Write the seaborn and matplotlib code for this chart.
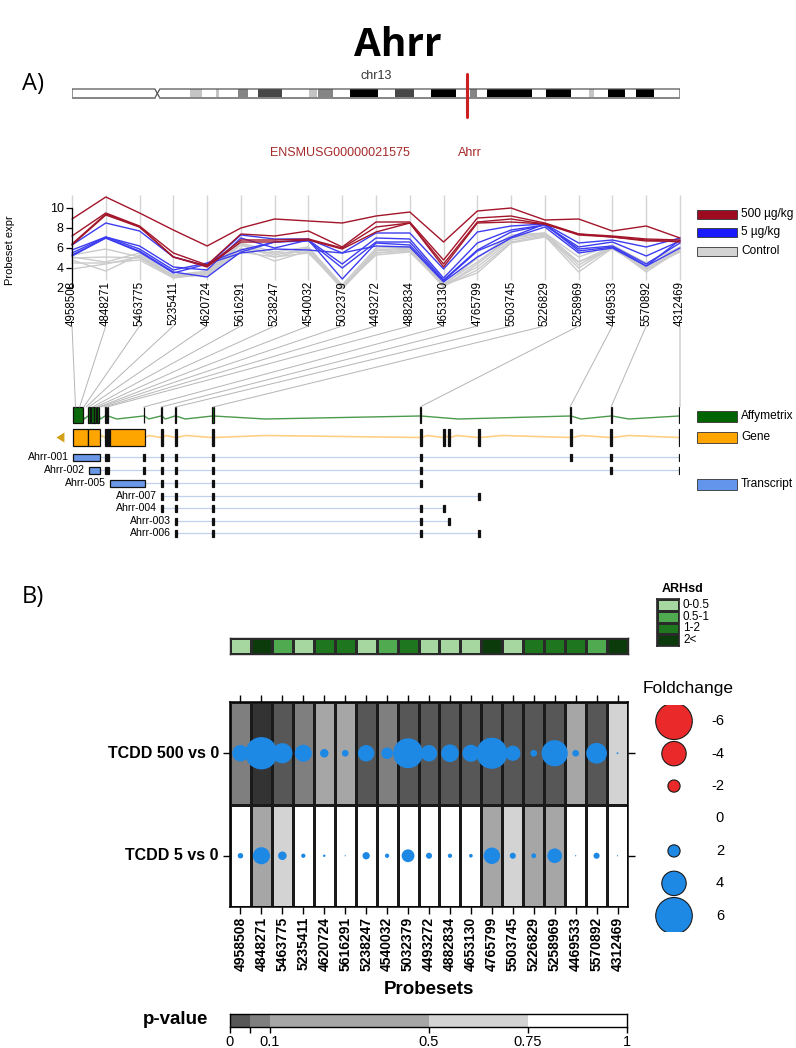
import numpy as np
import pandas as pd
import matplotlib
matplotlib.use("Agg")
import matplotlib.pyplot as plt
import seaborn as sns
from matplotlib.patches import Rectangle, Polygon, ConnectionPatch
from matplotlib.colors import ListedColormap

# ---------------------------------------------------------------- data
gene_symbol = "Ahrr"
gene_id = "ENSMUSG00000021575"
chrom = "chr13"

probesets = ["4958508", "4848271", "5463775", "5235411", "4620724", "5616291",
             "5238247", "4540032", "5032379", "4493272", "4882834", "4653130",
             "4765799", "5503745", "5226829", "5258969", "4469533", "5570892",
             "4312469"]

# probeset expression per sample (log2)
expr_500 = [
    [8.9, 11.1, 9.5, 7.8, 6.2, 8.0, 8.9, 8.7, 8.5, 9.2, 9.6, 6.6, 9.7, 10.0, 8.8, 8.9, 7.7, 8.2, 7.0],
    [7.2, 9.5, 8.2, 5.5, 4.3, 7.4, 7.2, 7.7, 6.1, 8.6, 8.6, 4.8, 9.0, 9.2, 8.5, 7.4, 7.2, 6.9, 6.8],
    [6.4, 9.4, 8.1, 5.1, 4.2, 6.8, 6.8, 6.9, 6.0, 8.1, 8.5, 4.4, 8.6, 8.9, 8.4, 7.4, 7.1, 6.8, 6.6],
    [6.3, 9.3, 8.1, 5.1, 4.1, 6.6, 6.6, 6.8, 5.9, 7.6, 8.5, 4.1, 8.5, 8.6, 8.4, 7.3, 7.1, 6.7, 6.7],
]
expr_5 = [
    [6.3, 8.5, 7.7, 5.1, 4.2, 7.3, 6.9, 6.9, 5.5, 7.5, 7.5, 3.9, 7.6, 8.2, 8.4, 6.5, 6.8, 6.1, 7.0],
    [5.8, 7.1, 6.2, 4.1, 3.8, 7.0, 6.0, 6.8, 4.4, 7.0, 6.9, 3.0, 6.5, 7.8, 8.3, 6.1, 6.6, 5.2, 6.7],
    [5.5, 7.1, 5.9, 3.8, 4.5, 5.8, 6.6, 6.7, 4.0, 6.6, 6.6, 2.8, 5.8, 7.6, 8.3, 5.9, 6.2, 4.4, 6.5],
    [5.3, 7.0, 5.7, 3.6, 3.1, 5.6, 6.6, 6.8, 2.9, 6.5, 6.3, 2.7, 5.7, 7.1, 8.4, 5.7, 6.1, 4.2, 6.8],
    [5.2, 7.0, 5.6, 3.5, 4.4, 5.5, 5.9, 5.8, 5.5, 6.2, 6.1, 2.6, 5.1, 7.0, 8.1, 5.5, 6.0, 4.2, 6.0],
]
expr_ctrl = [
    [5.3, 5.9, 5.1, 3.3, 3.7, 6.5, 5.6, 6.1, 2.3, 6.0, 6.1, 2.3, 5.0, 7.3, 7.5, 5.1, 6.3, 4.5, 6.1],
    [5.1, 4.6, 5.5, 3.2, 3.6, 6.4, 5.3, 6.0, 2.1, 5.8, 6.0, 2.4, 4.6, 7.1, 7.5, 4.6, 6.2, 4.1, 6.0],
    [5.0, 5.1, 5.0, 3.1, 3.5, 6.3, 5.1, 5.9, 2.0, 5.7, 5.9, 2.1, 4.4, 7.0, 7.4, 4.3, 6.1, 3.9, 5.9],
    [4.8, 3.7, 5.3, 3.1, 3.5, 6.0, 4.7, 5.7, 2.1, 5.5, 5.8, 2.3, 4.1, 6.8, 7.3, 4.0, 6.1, 3.6, 5.8],
    [4.5, 4.5, 4.8, 3.0, 3.4, 5.8, 5.5, 5.6, 1.9, 5.5, 5.7, 2.2, 3.8, 6.6, 7.2, 3.6, 6.0, 3.8, 5.7],
    [3.9, 4.4, 5.1, 3.1, 3.3, 5.6, 5.1, 5.5, 2.1, 5.3, 5.6, 2.3, 3.5, 6.5, 7.1, 4.6, 5.9, 4.0, 5.6],
]
dose_groups = ["500 µg/kg", "5 µg/kg", "Control"]

# chromosome ideogram (Mb)
chr_length = 120.4
centromere = (16.4, 17.4)
band_start = [23.4, 28.5, 32.9, 36.8, 46.9, 48.7, 55.0, 64.0, 71.1, 78.8, 82.2, 93.9, 102.4, 106.1, 111.7]
band_end = [25.7, 29.1, 34.9, 41.6, 48.5, 51.7, 60.6, 67.7, 76.0, 80.2, 91.1, 98.8, 103.4, 109.5, 115.2]
band_stain = ["gpos25", "gpos25", "gpos50", "gpos75", "gpos25", "gpos50", "gpos100", "gpos75",
              "gpos100", "gpos50", "gpos100", "gpos100", "gpos25", "gpos100", "gpos100"]
gene_locus_mb = 78.2

# gene region (kb from region start)
region_kb = 76.0
probeset_kb = [0.44, 0.95, 1.46, 1.75, 2.08, 2.59, 2.99, 3.35, 3.6, 4.0, 4.38,
               8.96, 11.13, 12.94, 17.63, 43.5, 62.25, 67.38, 76.0]
affy_exons = [(0.12, 1.38), (2.0, 2.25), (2.4, 2.7), (2.8, 3.0), (3.1, 3.4), (4.12, 4.25),
              (4.38, 4.5), (8.94, 9.06), (11.12, 11.25), (12.88, 13.0), (17.56, 17.69),
              (43.5, 43.62), (62.25, 62.38), (67.38, 67.5), (75.88, 76.0)]
gene_exons = [(0.12, 2.0), (2.0, 3.5), (4.12, 4.75), (4.75, 9.12), (11.1, 11.35), (12.9, 13.1),
              (17.5, 17.75), (43.5, 43.75), (46.4, 46.6), (47.0, 47.25), (50.75, 51.0),
              (62.25, 62.55), (67.3, 67.55), (75.85, 76.05)]
tx_names = ["Ahrr-001", "Ahrr-002", "Ahrr-005", "Ahrr-007", "Ahrr-004", "Ahrr-003", "Ahrr-006"]
tx_exons = [
    [(0.12, 3.5), (4.12, 4.62), (8.9, 9.1), (11.15, 11.35), (12.9, 13.1), (17.55, 17.75),
     (43.55, 43.75), (62.3, 62.5), (67.3, 67.5), (75.9, 76.1)],
    [(2.1, 3.5), (4.12, 4.62), (8.9, 9.1), (11.15, 11.35), (12.9, 13.1), (17.55, 17.75),
     (43.55, 43.75), (67.3, 67.5), (75.9, 76.1)],
    [(4.75, 9.12), (11.15, 11.35), (12.9, 13.1), (17.55, 17.75), (43.55, 43.75)],
    [(11.15, 11.35), (12.9, 13.1), (17.55, 17.75), (50.8, 51.0)],
    [(11.15, 11.35), (12.9, 13.1), (17.55, 17.75), (43.55, 43.75), (46.4, 46.6)],
    [(12.9, 13.1), (17.55, 17.75), (43.55, 43.75), (47.0, 47.2)],
    [(12.9, 13.1), (17.55, 17.75), (43.55, 43.75), (50.8, 51.0)],
]

# panel B
arhsd_levels = ["0-0.5", "0.5-1", "1-2", "2<"]
arhsd = ["0-0.5", "2<", "0.5-1", "0-0.5", "1-2", "1-2", "0-0.5", "0.5-1", "1-2", "0-0.5",
         "0-0.5", "0-0.5", "2<", "0-0.5", "1-2", "1-2", "1-2", "0.5-1", "2<"]
contrasts = ["TCDD 500 vs 0", "TCDD 5 vs 0"]
fc_500 = [2.7, 5.3, 3.3, 2.8, 1.4, 1.1, 2.7, 1.9, 4.9, 2.7, 2.9, 2.8, 5.1, 2.5, 1.1, 4.3, 1.1, 3.4, 0.3]
fc_5 = [0.9, 2.8, 1.4, 0.7, 0.4, 0.2, 1.2, 0.7, 2.1, 1.0, 0.7, 0.6, 2.7, 1.0, 0.8, 2.4, 0.2, 1.0, 0.2]
pval_500 = [0.062, 0.004, 0.021, 0.071, 0.21, 0.26, 0.018, 0.083, 0.012, 0.027, 0.031, 0.024,
            0.015, 0.033, 0.041, 0.019, 0.35, 0.028, 0.62]
pval_5 = [0.86, 0.31, 0.58, 0.91, 0.95, 0.97, 0.79, 0.88, 0.77, 0.83, 0.89, 0.92, 0.27, 0.61,
          0.44, 0.38, 0.98, 0.81, 0.96]
fc_legend = [-6, -4, -2, 0, 2, 4, 6]
p_breaks = [0, 0.05, 0.1, 0.5, 0.75, 1.0]
p_tick_labels = ["0", "", "0.1", "0.5", "0.75", "1"]

# ---------------------------------------------------------------- style
W, H = 796, 1048
sns.set_theme(style="white")
plt.rcParams["font.family"] = ["Liberation Sans", "DejaVu Sans"]
plt.rcParams["axes.facecolor"] = "none"
for k in ["text.color", "axes.labelcolor", "xtick.color", "ytick.color"]:
    plt.rcParams[k] = "black"

RED_LINE, BLUE_LINE, GREY_LINE = "#a3152a", "#3d3df0", "#cbcbcb"
stain_col = {"gpos25": "#c4c4c4", "gpos50": "#858585", "gpos75": "#474747", "gpos100": "#000000"}
arh_colors = ["#a6d7a1", "#50aa50", "#1e761e", "#0b3a0b"]
p_colors_cells = ["#333333", "#575757", "#7f7f7f", "#a6a6a6", "#d3d3d3", "#ffffff"]
p_cell_edges = [0.01, 0.05, 0.1, 0.5, 0.75]
p_colors_legend = ["#575757", "#7f7f7f", "#a6a6a6", "#d3d3d3", "#ffffff"]
BUB_BLUE, BUB_RED = "#1e88e5", "#ea2a2a"
SMAX = 694.0
NARROW_KB = 0.8

fig = plt.figure(figsize=(W / 100, H / 100), dpi=100)


def px_axes(x0, y0, x1, y1):
    return fig.add_axes([x0 / W, 1 - y1 / H, (x1 - x0) / W, (y1 - y0) / H])


ov = px_axes(0, 0, W, H)
ov.set_xlim(0, W)
ov.set_ylim(H, 0)
ov.axis("off")

ov.text(398, 45, gene_symbol, ha="center", va="center", fontsize=28, fontweight="bold",
        family=["Open Sans", "DejaVu Sans"])
ov.text(22, 84, "A)", ha="left", va="center", fontsize=17, family=["Open Sans", "DejaVu Sans"])
ov.text(22, 597, "B)", ha="left", va="center", fontsize=17, family=["Open Sans", "DejaVu Sans"])

# ---------------------------------------------------------------- ideogram
axc = px_axes(72, 60, 680, 125)
axc.set_xlim(0, chr_length)
axc.set_ylim(125, 60)
axc.axis("off")
top, bot = 89, 98
mid = (top + bot) / 2
cs, ce = centromere
cm = (cs + ce) / 2
outline = [(0, top), (cs, top), (cm, mid), (ce, top), (chr_length, top), (chr_length, bot),
           (ce, bot), (cm, mid), (cs, bot), (0, bot)]
axc.add_patch(Polygon(outline, closed=True, facecolor="white", edgecolor="none", zorder=1))
for s, e, st in zip(band_start, band_end, band_stain):
    axc.add_patch(Rectangle((s, top), e - s, bot - top, facecolor=stain_col[st],
                            edgecolor="none", zorder=2))
axc.add_patch(Polygon(outline, closed=True, facecolor="none", edgecolor="#555555", lw=0.9, zorder=3))
axc.plot([0, cs], [bot, bot], color="#888888", lw=1.4, zorder=3)
axc.plot([ce, chr_length], [bot, bot], color="#888888", lw=1.4, zorder=3)
axc.plot([gene_locus_mb, gene_locus_mb], [74, 117], color="#cc1f24", lw=2.2, zorder=4)
axc.text(chr_length / 2, 76, chrom, ha="center", va="center", fontsize=9, color="#333333")

ov.text(340, 153, gene_id, ha="center", va="center", fontsize=9, color="#a52a2a")
ov.text(470, 153, gene_symbol, ha="center", va="center", fontsize=9, color="#a52a2a")

# ---------------------------------------------------------------- expression lines
axl = px_axes(72, 208, 680, 288)
rows = []
for g, mat in zip(dose_groups, [expr_500, expr_5, expr_ctrl]):
    for k, vals in enumerate(mat):
        for i, v in enumerate(vals):
            rows.append({"pos": i, "expr": v, "group": g, "sample": f"{g}_{k}"})
df_lines = pd.DataFrame(rows)
axl.vlines(range(len(probesets)), 2.8, 11.3, color="#d4d4d4", lw=1, zorder=0, clip_on=False)
sns.lineplot(data=df_lines, x="pos", y="expr", hue="group", units="sample", estimator=None,
             hue_order=["Control", "5 µg/kg", "500 µg/kg"],
             palette={"Control": GREY_LINE, "5 µg/kg": BLUE_LINE, "500 µg/kg": RED_LINE},
             lw=1.0, legend=False, sort=False, ax=axl)
for ln in axl.lines:
    ln.set_clip_on(False)
axl.set_xlim(0, len(probesets) - 1)
axl.set_ylim(2, 10)
axl.set_xlabel("")
axl.set_ylabel("")
for side in ["top", "right", "bottom"]:
    axl.spines[side].set_visible(False)
axl.spines["left"].set_color("black")
axl.spines["left"].set_linewidth(0.9)
axl.set_yticks([2, 4, 6, 8, 10])
axl.set_xticks([])
axl.tick_params(axis="y", left=True, length=4, width=0.9, labelsize=9, pad=2)
for i, p in enumerate(probesets):
    axl.text(i, 2.7, p, rotation=90, ha="center", va="top", fontsize=8.3, clip_on=False)
ov.text(10, 250, "Probeset expr", rotation=90, ha="center", va="center", fontsize=8)

for k, (g, c) in enumerate(zip(dose_groups, ["#9e0b20", "#1a1aff", "#d3d3d3"])):
    y = 214 + k * 18.5
    ov.add_patch(Rectangle((697, y - 4.5), 40, 9, facecolor=c, edgecolor="#333333", lw=0.6))
    ov.text(741, y, g, ha="left", va="center", fontsize=8.6)

# ---------------------------------------------------------------- gene tracks
axg = px_axes(72, 395, 680, 545)
axg.set_xlim(0, region_kb)
axg.set_ylim(545, 395)
axg.axis("off")


def intron_lines(ax, exons, y, dy, color, lw):
    for (s0, e0), (s1, e1) in zip(exons[:-1], exons[1:]):
        if s1 - e0 <= 0.05:
            continue
        xm = e0 + 0.25 * (s1 - e0)
        ax.plot([e0, xm, s1], [y, y + dy, y], color=color, lw=lw, zorder=1, solid_joinstyle="round")


def exon_boxes(ax, exons, y0, h, face, fill_narrow=True):
    for s, e in exons:
        fc = "#111111" if (fill_narrow and (e - s) < NARROW_KB) else face
        ax.add_patch(Rectangle((s, y0), e - s, h, facecolor=fc, edgecolor="#111111",
                               lw=0.9, zorder=2))


# Affymetrix track
intron_lines(axg, affy_exons, 416, 3, "#4c9a4c", 1.0)
exon_boxes(axg, affy_exons, 407, 16, "#0b6a0b", fill_narrow=False)
# Gene track
intron_lines(axg, gene_exons, 437.5, -2, "#ffcf85", 1.2)
exon_boxes(axg, gene_exons, 429, 17, "#ffa500")
axg.add_patch(Polygon([(-1.95, 437.5), (-0.95, 432.5), (-0.95, 442.5)], closed=True,
                      facecolor="#d4a017", edgecolor="none", clip_on=False))
# Transcripts
tx_y = [457, 470, 483, 496, 508, 521, 533]
for name, exons, y in zip(tx_names, tx_exons, tx_y):
    axg.plot([exons[0][1], exons[-1][0]], [y, y], color="#c0d0ef", lw=0.9, zorder=1)
    exon_boxes(axg, exons, y - 3.5, 7, "#6a98e6")
    axg.text(exons[0][0] - 0.5, y, name, ha="right", va="center", fontsize=7.6, clip_on=False)

for lab, c, y in [("Affymetrix", "#006400", 416), ("Gene", "#ffa500", 437),
                  ("Transcript", "#6495ed", 484)]:
    ov.add_patch(Rectangle((697, y - 5.5), 40, 11, facecolor=c, edgecolor="#333333", lw=0.6))
    ov.text(741, y, lab, ha="left", va="center", fontsize=8.6)

# connectors from expression axis to probeset positions
for i, kb in enumerate(probeset_kb):
    cp = ConnectionPatch(xyA=(i, -1.8), coordsA=axl.transData, xyB=(kb, 407),
                         coordsB=axg.transData, color="#b5b5b5", lw=0.7)
    fig.add_artist(cp)

# ---------------------------------------------------------------- panel B: ARHsd strip
arh_cmap = ListedColormap(arh_colors)
axa = px_axes(230, 638, 628, 654)
arh_idx = np.array([[arhsd_levels.index(c) for c in arhsd]])
sns.heatmap(arh_idx, cmap=arh_cmap, vmin=-0.5, vmax=3.5, cbar=False, linewidths=1,
            linecolor="#2a2a2a", xticklabels=False, yticklabels=False, ax=axa)
for sp in axa.spines.values():
    sp.set_visible(True)
    sp.set_color("#2a2a2a")
    sp.set_linewidth(1)

axal = px_axes(657, 599, 679, 646)
sns.heatmap(np.arange(len(arhsd_levels)).reshape(-1, 1), cmap=arh_cmap, vmin=-0.5, vmax=3.5,
            cbar=False, linewidths=1, linecolor="#2a2a2a", xticklabels=False,
            yticklabels=False, ax=axal)
for sp in axal.spines.values():
    sp.set_visible(True)
    sp.set_color("#2a2a2a")
for k, lab in enumerate(arhsd_levels):
    axal.text(1.18, k + 0.5, lab, ha="left", va="center", fontsize=8.5, clip_on=False)
ov.text(683, 589, "ARHsd", ha="center", va="center", fontsize=9, fontweight="bold")

# ---------------------------------------------------------------- bubble grid
axb = px_axes(230, 702, 628, 907)
pmat = np.array([pval_500, pval_5])
pbin = np.digitize(pmat, p_cell_edges, right=True)
sns.heatmap(pbin, cmap=ListedColormap(p_colors_cells), vmin=-0.5,
            vmax=len(p_colors_cells) - 0.5, cbar=False, linewidths=1, linecolor="#1a1a1a",
            xticklabels=probesets, yticklabels=contrasts, ax=axb)
n = len(probesets)
df_b = pd.DataFrame({
    "x": np.tile(np.arange(n) + 0.5, 2),
    "y": np.repeat([0.5, 1.5], n),
    "fc": np.concatenate([fc_500, fc_5]),
})
df_b["mag"] = df_b["fc"] ** 2
df_b["dir"] = np.where(df_b["fc"] < 0, "down", "up")
sns.scatterplot(data=df_b, x="x", y="y", size="mag", sizes=(0, SMAX), size_norm=(0, 36),
                hue="dir", hue_order=["up", "down"], palette={"up": BUB_BLUE, "down": BUB_RED},
                linewidth=0, legend=False, ax=axb, zorder=3)
axb.set_xlim(0, n)
axb.set_ylim(2, 0)
axb.set_xlabel("")
axb.set_ylabel("")
for sp in axb.spines.values():
    sp.set_visible(True)
    sp.set_color("black")
    sp.set_linewidth(1.1)
axb.tick_params(axis="x", bottom=True, top=True, length=5, width=1, labelsize=10, pad=2,
                labelrotation=90)
axb.tick_params(axis="y", left=True, right=True, length=5, width=1, labelsize=11.5, pad=3,
                labelrotation=0)
for t in axb.get_xticklabels() + axb.get_yticklabels():
    t.set_fontweight("bold")
ov.text(429, 990, "Probesets", ha="center", va="center", fontsize=13.5, fontweight="bold")

# fold-change legend
axf = px_axes(640, 705, 708, 932)
df_f = pd.DataFrame({"x": 0.5, "y": np.arange(len(fc_legend)), "fc": fc_legend})
df_f["mag"] = df_f["fc"] ** 2
df_f["dir"] = np.where(df_f["fc"] < 0, "down", "up")
sns.scatterplot(data=df_f[df_f["fc"] != 0], x="x", y="y", size="mag", sizes=(0, SMAX),
                size_norm=(0, 36), hue="dir", hue_order=["up", "down"],
                palette={"up": BUB_BLUE, "down": BUB_RED}, edgecolor="#1a1a1a",
                linewidth=0.8, legend=False, ax=axf)
axf.set_xlim(0, 1)
axf.set_ylim(len(fc_legend) - 0.5, -0.5)
axf.axis("off")
for i, v in enumerate(fc_legend):
    axf.text(1.235, i, str(v), ha="right", va="center", fontsize=10.5, clip_on=False)
ov.text(688, 688, "Foldchange", ha="center", va="center", fontsize=12.5)

# p-value legend
axp = px_axes(230, 1014, 627, 1027)
axp.barh(0, np.diff(p_breaks), left=p_breaks[:-1], height=1, color=p_colors_legend,
         edgecolor="none")
axp.set_xlim(0, 1)
axp.set_ylim(-0.5, 0.5)
axp.set_xticks(p_breaks)
axp.set_xticklabels(p_tick_labels)
axp.set_yticks([])
axp.tick_params(axis="x", bottom=True, length=4, width=1, labelsize=10.5, pad=2)
for sp in axp.spines.values():
    sp.set_visible(True)
    sp.set_color("black")
    sp.set_linewidth(1)
ov.text(208, 1020, "p-value", ha="right", va="center", fontsize=13.5, fontweight="bold")

fig.savefig("out.png", dpi=100)
